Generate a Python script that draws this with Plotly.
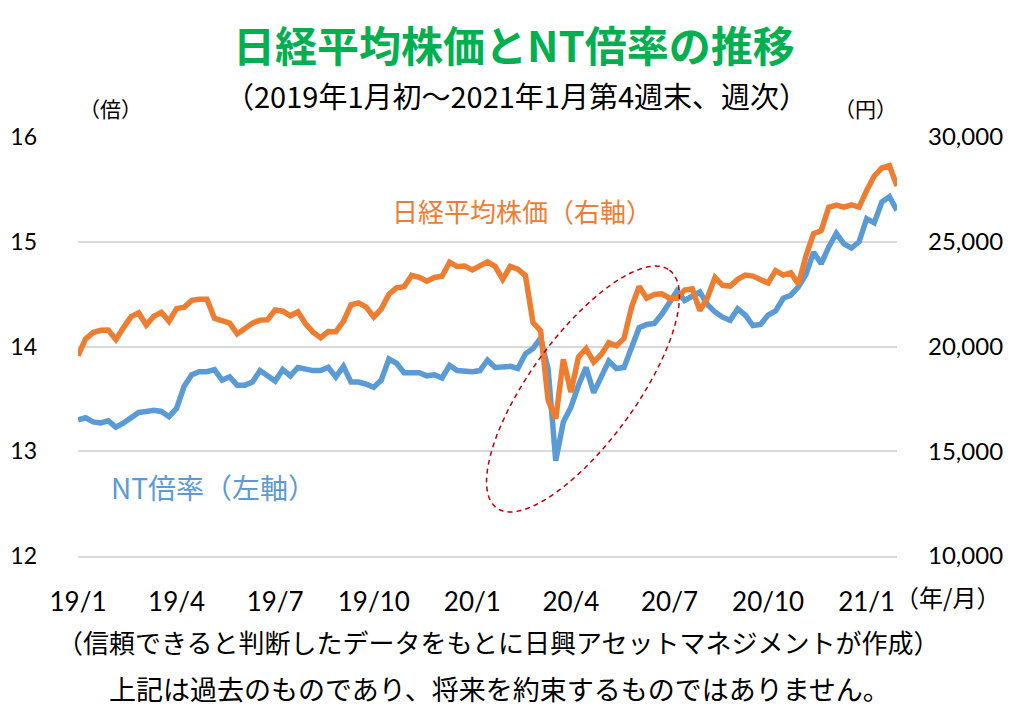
import numpy as np
import pandas as pd
import plotly.graph_objects as go

# 週次データ（2019年1月初～2021年1月第4週末、金曜日）
weeks = pd.date_range("2019-01-04", periods=109, freq="7D")

# 日経平均株価（円、右軸）
nikkei = [
    19562, 20360, 20666, 20774, 20788, 20333, 20901, 21426, 21603, 21026,
    21451, 21627, 21206, 21808, 21871, 22201, 22259, 22259, 21345, 21250,
    21117, 20601, 20885, 21117, 21259, 21276, 21746, 21686, 21467, 21658,
    21087, 20685, 20419, 20711, 20704, 21200, 21988, 22079, 21879, 21410,
    21799, 22493, 22800, 22851, 23392, 23303, 23113, 23294, 23354, 24023,
    23817, 23838, 23657, 23851, 24041, 23827, 23205, 23828, 23688, 23387,
    21143, 20750, 17431, 16553, 19389, 17820, 19499, 19897, 19262, 19619,
    20179, 20037, 20388, 21878, 22864, 22305, 22479, 22512, 22306, 22291,
    22696, 22752, 21710, 22330, 23289, 22920, 22883, 23205, 23406, 23360,
    23205, 23030, 23620, 23411, 23517, 22977, 24325, 25386, 25527, 26645,
    26751, 26653, 26763, 26657, 27444, 28139, 28519, 28631, 27663,
]

# NT倍率（倍、左軸）
nt_ratio = [
    13.30, 13.32, 13.28, 13.27, 13.29, 13.23, 13.27, 13.32, 13.37, 13.38,
    13.39, 13.38, 13.33, 13.41, 13.62, 13.73, 13.76, 13.76, 13.78, 13.68,
    13.71, 13.63, 13.63, 13.66, 13.77, 13.72, 13.67, 13.78, 13.72, 13.80,
    13.78, 13.77, 13.77, 13.80, 13.71, 13.81, 13.66, 13.66, 13.64, 13.61,
    13.68, 13.88, 13.84, 13.75, 13.75, 13.75, 13.72, 13.73, 13.70, 13.82,
    13.77, 13.76, 13.76, 13.77, 13.87, 13.80, 13.80, 13.81, 13.79, 13.93,
    13.98, 14.08, 13.78, 12.91, 13.28, 13.42, 13.63, 13.80, 13.56, 13.72,
    13.86, 13.79, 13.80, 13.99, 14.18, 14.21, 14.22, 14.31, 14.41, 14.53,
    14.44, 14.48, 14.52, 14.40, 14.33, 14.28, 14.25, 14.36, 14.30, 14.20,
    14.21, 14.30, 14.34, 14.46, 14.49, 14.57, 14.69, 14.90, 14.79, 14.95,
    15.08, 14.98, 14.94, 15.00, 15.22, 15.18, 15.38, 15.43, 15.30,
]

tick_dates = ["2019-01-04", "2019-04-05", "2019-07-05", "2019-10-04", "2020-01-03",
              "2020-04-03", "2020-07-03", "2020-10-02", "2021-01-01"]
tick_text = ["19/1", "19/4", "19/7", "19/10", "20/1", "20/4", "20/7", "20/10", "21/1"]

JP = "Noto Sans CJK JP"
NUM = "Lato, Noto Sans CJK JP"
OFF = 8  # ページ余白（body margin）
W, H = 1032 - OFF, 715 - OFF
X0, X1, Y0, Y1 = 78, 897, 137, 556  # 画面上のプロット領域
L, T = X0 - OFF, Y0 - OFF
R, B = W - (X1 - OFF), H - (Y1 - OFF)
PW, PH = X1 - X0, Y1 - Y0


def px(x, y):
    # 画面ピクセル位置 → paper座標
    return (x - X0) / PW, (Y1 - y) / PH


fig = go.Figure()

fig.add_trace(go.Scatter(x=weeks, y=nt_ratio, mode="lines", name="NT倍率",
                         line=dict(color="#5B9BD5", width=5.5)))
fig.add_trace(go.Scatter(x=weeks, y=nikkei, mode="lines", name="日経平均株価",
                         yaxis="y2", line=dict(color="#ED7D31", width=5.5)))

# 点線の楕円（コロナショック部分の強調）
cx, cy, a, b, ang = 583, 389, 147, 53, np.radians(54)
t = np.linspace(0, 2 * np.pi, 120)
ex = cx + a * np.cos(t) * np.cos(ang) + b * np.sin(t) * np.sin(ang)
ey = cy - a * np.cos(t) * np.sin(ang) + b * np.sin(t) * np.cos(ang)
pts = [px(x, y) for x, y in zip(ex, ey)]
path = "M " + " L ".join(f"{p[0]:.4f},{p[1]:.4f}" for p in pts) + " Z"
fig.add_shape(type="path", path=path, xref="paper", yref="paper",
              line=dict(color="#C00000", width=1.5, dash="5px,4px"))


def note(text, x, y, size, color="black", bold=False):
    xx, yy = px(x, y)
    if bold:
        text = f"<b>{text}</b>"
    fig.add_annotation(text=text, x=xx, y=yy, xref="paper", yref="paper",
                       showarrow=False, xanchor="center", yanchor="middle",
                       font=dict(family=JP, size=size, color=color))


note("日経平均株価とNT倍率の推移", 514, 44, 42, "#00B050", bold=True)
note("（2019年1月初～2021年1月第4週末、週次）", 516, 95, 29)
note("（倍）", 110, 108, 21)
note("（円）", 865, 108, 21)
note("（年/月）", 947, 596, 24)
note("日経平均株価（右軸）", 522, 210, 26, "#ED7D31")
note("NT倍率（左軸）", 213, 487, 28, "#5B9BD5")
note("（信頼できると判断したデータをもとに日興アセットマネジメントが作成）", 498, 641, 26)
note("上記は過去のものであり、将来を約束するものではありません。", 500, 688, 27)

fig.update_layout(
    width=W, height=H,
    margin=dict(l=L, r=R, t=T, b=B, autoexpand=False),
    paper_bgcolor="white", plot_bgcolor="white",
    showlegend=False,
    font=dict(family=NUM, color="black"),
    xaxis=dict(type="date", range=[weeks[0], weeks[-1]],
               tickvals=tick_dates, ticktext=tick_text, automargin=False,
               showgrid=False, zeroline=False, ticks="",
               showline=True, linecolor="#D9D9D9", linewidth=2,
               tickfont=dict(size=26), ticklabelstandoff=22),
    yaxis=dict(range=[12, 16], dtick=1, showgrid=True, gridcolor="#D9D9D9",
               gridwidth=2, zeroline=False, showline=False, ticks="",
               automargin=False, tickfont=dict(size=23), ticklabelstandoff=40),
    yaxis2=dict(range=[10000, 30000], dtick=5000, overlaying="y", side="right",
                tickformat=",", showgrid=False, zeroline=False, showline=False,
                ticks="", automargin=False, tickfont=dict(size=24),
                ticklabelstandoff=30),
)

fig.write_html("out.html")
